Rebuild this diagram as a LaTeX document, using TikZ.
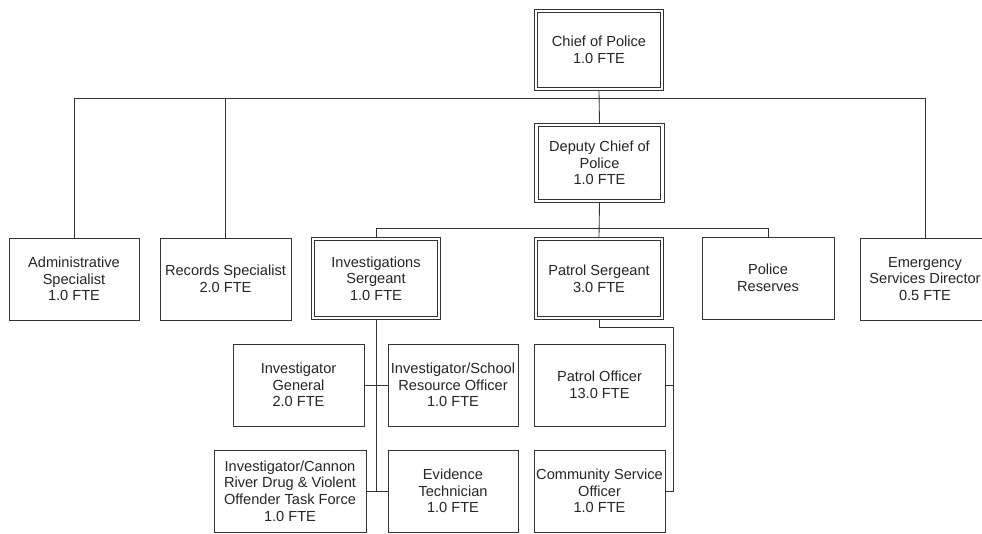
\documentclass[tikz,border=0pt]{standalone}
\usepackage{fontspec}
\setmainfont{Liberation Sans}
\begin{document}
\begin{tikzpicture}[x=1pt,y=-1pt,
  every node/.style={font=\fontsize{14.6}{16.7}\selectfont, text=black!85, align=center, inner sep=0pt},
  box/.style={draw=black!80, line width=0.85pt, fill=white, minimum width=#1, minimum height=82pt},
  box/.default=130pt,
  dbox/.style={draw=black!80, line width=0.75pt, double=white, double distance=2.6pt, fill=white,
               minimum width=126pt, minimum height=78pt, outer sep=2pt},
  conn/.style={draw=black!80, line width=0.85pt}]
\useasboundingbox (0,0) rectangle (982,533);
\clip (0,0) rectangle (982,533);
% nodes
\node[dbox] (chief) at (599,50) {Chief of Police\\1.0 FTE};
\node[dbox, minimum height=76pt] (deputy) at (599.5,163) {Deputy Chief of\\Police\\1.0 FTE};
\node[box] (admin) at (74,279) {Administrative\\Specialist\\1.0 FTE};
\node[box=131pt] (records) at (225.5,279) {Records Specialist\\2.0 FTE};
\node[dbox, minimum height=79pt] (invsgt) at (376,278.5) {Investigations\\Sergeant\\1.0 FTE};
\node[dbox, minimum height=79pt] (patsgt) at (599,278.5) {Patrol Sergeant\\3.0 FTE};
\node[box=132pt] (reserves) at (768,278) {Police\\Reserves};
\node[box] (emerg) at (925,279) {Emergency\\Services Director\\0.5 FTE};
\node[box=131pt] (invgen) at (298.5,385) {Investigator\\General\\2.0 FTE};
\node[box] (invsro) at (453,385) {Investigator/School\\Resource Officer\\1.0 FTE};
\node[box=152pt] (invcannon) at (290,491) {Investigator/Cannon\\River Drug \& Violent\\Offender Task Force\\1.0 FTE};
\node[box] (evidence) at (453,491) {Evidence\\Technician\\1.0 FTE};
\node[box=131pt] (patoff) at (599.5,385) {Patrol Officer\\13.0 FTE};
\node[box=131pt] (cso) at (599.5,491) {Community Service\\Officer\\1.0 FTE};
% bus coordinates
\coordinate (bus1) at (0,98.5);
\coordinate (bus2) at (0,228.5);
\coordinate (pspine) at (673,327);
% connectors
\draw[conn] (chief.south) -- (deputy.north);
\draw[conn] (admin.north) -- (admin.north |- bus1) -- (emerg.north |- bus1) -- (emerg.north);
\draw[conn] (records.north) -- (records.north |- bus1);
\draw[conn] (deputy.south) -- (patsgt.north);
\draw[conn] (invsgt.north) -- (invsgt.north |- bus2) -- (reserves.north |- bus2) -- (reserves.north);
\draw[conn] (invsgt.south) -- (invsgt.south |- evidence.west);
\draw[conn] (invgen.east) -- (invsro.west);
\draw[conn] (invcannon.east) -- (evidence.west);
\draw[conn] (patsgt.south) -- (patsgt.south |- pspine) -- (pspine) -- (pspine |- cso.east) -- (cso.east);
\draw[conn] (patoff.east) -- (pspine |- patoff.east);
\end{tikzpicture}
\end{document}
